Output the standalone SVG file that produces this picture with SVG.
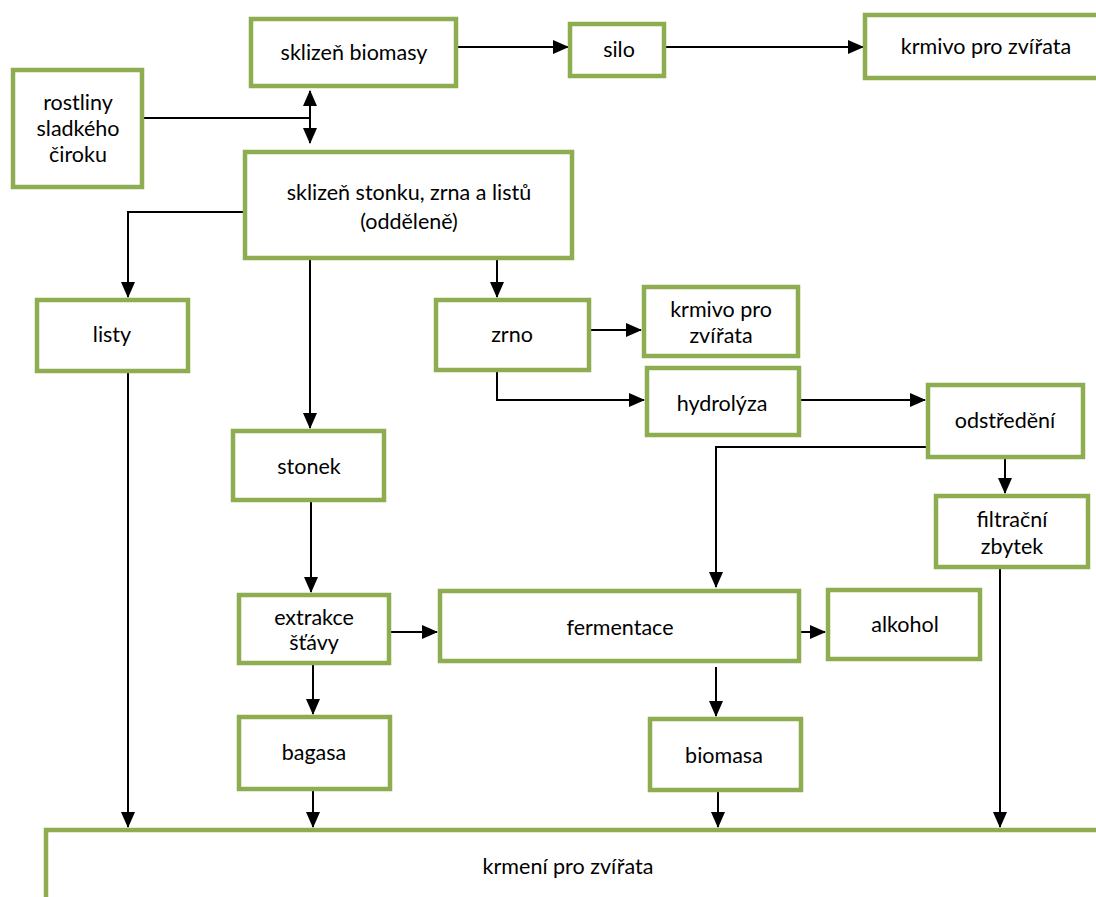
<svg xmlns="http://www.w3.org/2000/svg" width="1096" height="897" viewBox="0 0 1096 897">
<defs>
<style>
.box{fill:#fff;stroke:#8EAC50;stroke-width:4.5}
.t{font-family:Lato,"Open Sans",sans-serif;font-size:21.5px;fill:#000;text-anchor:middle}
.c{fill:none;stroke:#000;stroke-width:2}
</style>
<marker id="ah" markerUnits="userSpaceOnUse" markerWidth="16" markerHeight="14" refX="15" refY="7" orient="auto-start-reverse" viewBox="0 0 16 14">
<path d="M0,0 L16,7 L0,14 Z" fill="#000"/>
</marker>
</defs>
<rect width="1096" height="897" fill="#fff"/>
<g id="connectors">
<path class="c" d="M458,47 H568" marker-end="url(#ah)"/>
<path class="c" d="M666,47 H863" marker-end="url(#ah)"/>
<path class="c" d="M144,118 H310"/>
<path class="c" d="M310,91 V143" marker-start="url(#ah)" marker-end="url(#ah)"/>
<path class="c" d="M243,212 H128 V297" marker-end="url(#ah)"/>
<path class="c" d="M310,260 V428" marker-end="url(#ah)"/>
<path class="c" d="M497,260 V297" marker-end="url(#ah)"/>
<path class="c" d="M591,330 H641" marker-end="url(#ah)"/>
<path class="c" d="M497,372 V400 H644" marker-end="url(#ah)"/>
<path class="c" d="M801,400 H925" marker-end="url(#ah)"/>
<path class="c" d="M926,447 H716 V587" marker-end="url(#ah)"/>
<path class="c" d="M1005,459 V493" marker-end="url(#ah)"/>
<path class="c" d="M1000,569 V827" marker-end="url(#ah)"/>
<path class="c" d="M128,373 V827" marker-end="url(#ah)"/>
<path class="c" d="M311,502 V592" marker-end="url(#ah)"/>
<path class="c" d="M391,632 H437" marker-end="url(#ah)"/>
<path class="c" d="M313,665 V714" marker-end="url(#ah)"/>
<path class="c" d="M313,791 V827" marker-end="url(#ah)"/>
<path class="c" d="M797,632 H825" marker-end="url(#ah)"/>
<path class="c" d="M716,667 V716" marker-end="url(#ah)"/>
<path class="c" d="M718,792 V827" marker-end="url(#ah)"/>
</g>
<g id="n-sklizen-biomasy"><rect class="box" x="251" y="19" width="205" height="67"/><text class="t" x="354" y="60">sklizeň biomasy</text></g>
<g id="n-silo"><rect class="box" x="570" y="24" width="94" height="52"/><text class="t" x="619" y="57">silo</text></g>
<g id="n-krmivo1"><rect class="box" x="865" y="15" width="240" height="63"/><text class="t" x="986" y="54">krmivo pro zvířata</text></g>
<g id="n-rostliny"><rect class="box" x="13" y="70" width="129" height="117"/><text class="t" x="78" y="110">rostliny</text><text class="t" x="78" y="136">sladkého</text><text class="t" x="78" y="162">čiroku</text></g>
<g id="n-sklizen-stonku"><rect class="box" x="245" y="152" width="327" height="106"/><text class="t" x="409" y="200">sklizeň stonku, zrna a listů</text><text class="t" x="409" y="229">(odděleně)</text></g>
<g id="n-listy"><rect class="box" x="37" y="300" width="151" height="71"/><text class="t" x="112" y="342">listy</text></g>
<g id="n-zrno"><rect class="box" x="436" y="300" width="153" height="70"/><text class="t" x="512" y="342">zrno</text></g>
<g id="n-krmivo2"><rect class="box" x="644" y="287" width="154" height="69"/><text class="t" x="721" y="317">krmivo pro</text><text class="t" x="721" y="343">zvířata</text></g>
<g id="n-hydrolyza"><rect class="box" x="647" y="368" width="152" height="67"/><text class="t" x="722" y="411">hydrolýza</text></g>
<g id="n-odstredeni"><rect class="box" x="928" y="385" width="155" height="72"/><text class="t" x="1005" y="428">odstředění</text></g>
<g id="n-stonek"><rect class="box" x="233" y="431" width="151" height="69"/><text class="t" x="309" y="474">stonek</text></g>
<g id="n-filtracni"><rect class="box" x="936" y="496" width="152" height="71"/><text class="t" x="1012" y="527">filtrační</text><text class="t" x="1012" y="554">zbytek</text></g>
<g id="n-extrakce"><rect class="box" x="239" y="595" width="150" height="68"/><text class="t" x="314" y="625">extrakce</text><text class="t" x="314" y="650">šťávy</text></g>
<g id="n-fermentace"><rect class="box" x="440" y="591" width="359" height="70"/><text class="t" x="620" y="635">fermentace</text></g>
<g id="n-alkohol"><rect class="box" x="828" y="590" width="152" height="69"/><text class="t" x="905" y="632">alkohol</text></g>
<g id="n-bagasa"><rect class="box" x="239" y="717" width="151" height="72"/><text class="t" x="314" y="760">bagasa</text></g>
<g id="n-biomasa"><rect class="box" x="650" y="719" width="151" height="71"/><text class="t" x="724" y="763">biomasa</text></g>
<g id="n-krmeni"><rect class="box" x="46" y="830" width="1070" height="90"/><text class="t" x="568" y="874">krmení pro zvířata</text></g>
</svg>
